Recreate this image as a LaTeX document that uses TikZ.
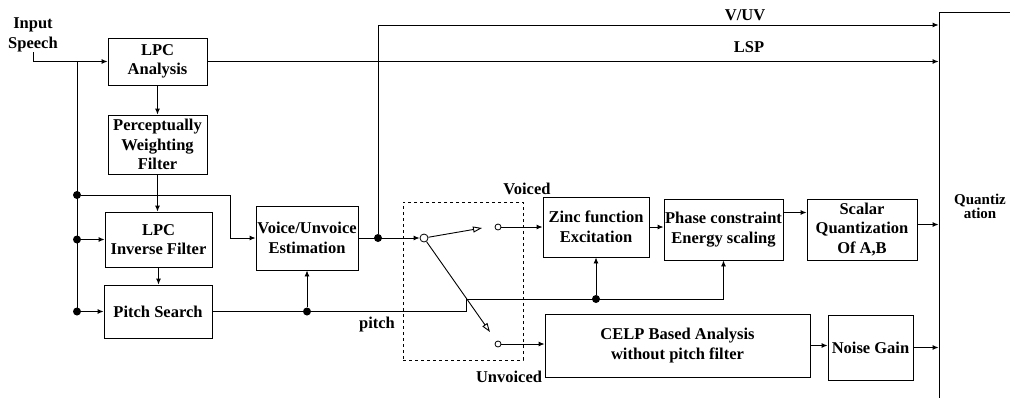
\documentclass[tikz,border=0pt]{standalone}
\usepackage{fontspec}
\setmainfont{Liberation Serif}
\usetikzlibrary{arrows.meta,positioning}

\begin{document}
\begin{tikzpicture}[
  x=1pt,y=-1pt,
  every node/.style={font=\bfseries\fontsize{16.5}{19.5}\selectfont},
  blk/.style={draw,line width=0.9pt,inner sep=0pt,align=center},
  lbl/.style={inner sep=0pt,align=center},
  dot/.style={circle,fill,inner sep=0pt,minimum size=8pt},
  term/.style={circle,draw,fill=white,line width=0.8pt,inner sep=0pt,minimum size=6pt},
  pivot/.style={circle,draw,fill=white,line width=0.8pt,inner sep=0pt,minimum size=8pt},
  wire/.style={line width=0.9pt},
  arr/.style={-{Latex[length=6pt,width=5pt]},line width=0.9pt},
  sw/.style={-{Triangle[open,length=9pt,width=6pt]},line width=0.9pt}
]
  \clip (0,0) rectangle (1010,397);
  % switch frame
  \node[draw,dashed,line width=0.8pt,minimum width=120pt,minimum height=158pt] (swbox) at (463,281) {};
  % blocks
  \node[blk,minimum width=99pt,minimum height=47pt] (lpc) at (157.5,61.5) {LPC\\Analysis};
  \node[blk,minimum width=99pt,minimum height=59pt] (pwf) at (157.5,144.5) {Perceptually\\Weighting\\Filter};
  \node[blk,minimum width=107pt,minimum height=55pt] (inv) at (158.5,239.5) {LPC\\Inverse Filter};
  \node[blk,minimum width=108pt,minimum height=53pt] (pitch) at (158,311.5) {Pitch Search};
  \node[blk,minimum width=102pt,minimum height=64pt] (vuv) at (307,238) {Voice/Unvoice\\Estimation};
  \node[blk,minimum width=106pt,minimum height=60pt] (zinc) at (596,227) {Zinc function\\Excitation};
  \node[blk,minimum width=119pt,minimum height=61pt] (phase) at (723.5,229.5) {Phase constraint\\Energy scaling};
  \node[blk,minimum width=110pt,minimum height=61pt] (scalar) at (862,229.5) {Scalar\\Quantization\\Of A,B};
  \node[blk,minimum width=265pt,minimum height=63pt] (celp) at (677.5,345.5) {CELP Based Analysis\\without pitch filter};
  \node[blk,minimum width=85pt,minimum height=65pt] (noise) at (870.5,347.5) {Noise Gain};
  \node[blk,minimum width=82pt,minimum height=388pt,font=\bfseries\fontsize{15}{16}\selectfont]
    (quant) at (980,206) {Quantiz\\[-2pt]ation};
  % labels
  \node[lbl] (input) at (33,35) {Input\\Speech};
  \node[lbl] (vuvlbl) at (745,15) {V/UV};
  \node[lbl] (lsplbl) at (749,47) {LSP};
  \node[lbl] (pitchlbl) at (377,325) {pitch};
  \node[lbl] (voiced) at (527,189) {Voiced};
  \node[lbl] (unvoiced) at (509,377) {Unvoiced};
  % analysis chain
  \coordinate (bus) at (77,0);
  \draw[arr] (input.south) |- (lpc.west);
  \draw[wire] (bus |- lpc.west) -- (bus |- pitch.west);
  \node[dot] (d1) at (77,195) {};
  \node[dot] (d2) at (bus |- inv.west) {};
  \node[dot] (d3) at (bus |- pitch.west) {};
  \draw[arr] (d2) -- (inv.west);
  \draw[arr] (d3) -- (pitch.west);
  \coordinate (bend1) at (230,195);
  \draw[arr] (d1) -- (bend1) |- (vuv.west);
  \draw[arr] (lpc.south) -- (pwf.north);
  \draw[arr] (pwf.south) -- (pwf.south |- inv.north);
  \draw[arr] (inv.south) -- (inv.south |- pitch.north);
  \draw[arr] (lpc.east) -- (lpc.east -| quant.west);
  % pitch path
  \node[dot] (d4) at (vuv.south |- pitch.east) {};
  \coordinate (jog1) at (466,311.5);
  \coordinate (jog2) at (466,299);
  \node[dot] (d5) at (zinc.south |- jog2) {};
  \draw[arr] (pitch.east) -- (jog1) -- (jog2) -| (phase.south);
  \draw[arr] (d4) -- (vuv.south);
  \draw[arr] (d5) -- (zinc.south);
  % voicing decision and switch
  \node[pivot] (pv) at (424,238) {};
  \node[dot] (d6) at (378,238) {};
  \draw[arr] (vuv.east) -- (pv.west);
  \coordinate (vtop) at (378,25);
  \draw[arr] (d6) -- (vtop) -- (vtop -| quant.west);
  \coordinate (vtip) at (482,228);
  \coordinate (utip) at (490,332);
  \draw[sw] (pv) -- (vtip);
  \draw[sw] (pv) -- (utip);
  \node[term] (vterm) at (498,227) {};
  \node[term] (uterm) at (498,344) {};
  \draw[arr] (vterm) -- (vterm -| zinc.west);
  \draw[arr] (uterm) -- (uterm -| celp.west);
  % parameter coding
  \draw[arr] (zinc.east) -- (zinc.east -| phase.west);
  \draw[arr] ([yshift=17pt]phase.east) -- ([yshift=17pt]phase.east -| scalar.west);
  \draw[arr] ([yshift=5pt]scalar.east) -- ([yshift=5pt]scalar.east -| quant.west);
  \draw[arr] (celp.east) -- (celp.east -| noise.west);
  \draw[arr] (noise.east) -- (noise.east -| quant.west);
\end{tikzpicture}
\end{document}
